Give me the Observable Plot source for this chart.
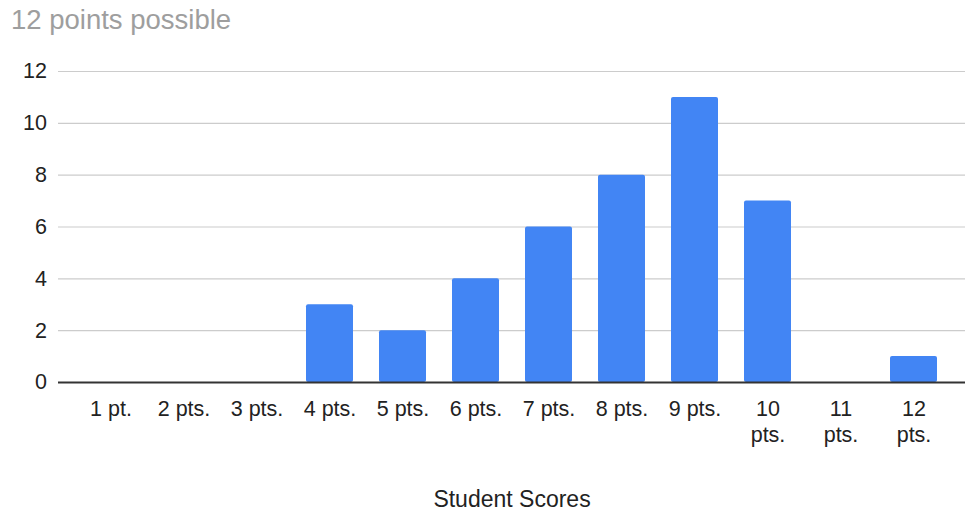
<!DOCTYPE html>
<html>
<head>
<meta charset="utf-8">
<script src="https://cdn.jsdelivr.net/npm/d3@7"></script>
<script src="https://cdn.jsdelivr.net/npm/@observablehq/plot@0.6"></script>
<style>
  html, body { margin: 0; padding: 0; background: #fff; }
  #title { font-family: "Liberation Sans", Arial, sans-serif; font-size: 27.5px; color: #9e9e9e; height: 44px; line-height: 39px; padding-left: 11px; box-sizing: border-box; white-space: nowrap; }
  #chart svg { display: block; }
</style>
</head>
<body>
<div id="title">12 points possible</div>
<div id="chart"></div>
<script>
const categories = ["1 pt.", "2 pts.", "3 pts.", "4 pts.", "5 pts.", "6 pts.", "7 pts.", "8 pts.", "9 pts.", "10 pts.", "11 pts.", "12 pts."];
const counts = [0, 0, 0, 3, 2, 4, 6, 8, 11, 7, 0, 1];
const yTicks = [0, 2, 4, 6, 8, 10, 12];
const xTitle = "Student Scores";

const data = categories.map((c, i) => ({category: c, count: counts[i]}));

const chart = Plot.plot({
  width: 968,
  height: 467,
  marginLeft: 58,
  marginRight: 3,
  marginTop: 27,
  marginBottom: 129,
  style: {fontFamily: "'Liberation Sans', Arial, sans-serif", fontSize: "21px", color: "#222", background: "#fff"},
  x: {domain: categories, padding: 0.36, paddingOuter: 0.35, label: null},
  y: {domain: [0, 12], ticks: yTicks, label: null},
  marks: [
    Plot.gridY(yTicks.filter(d => d > 0), {stroke: "#cccccc", strokeOpacity: 1, strokeWidth: 1.2}),
    Plot.axisY(yTicks, {tickSize: 0, tickPadding: 11.5, fontSize: 21.5, label: null}),
    Plot.axisX({tickSize: 0, tickPadding: 15, fontSize: 21.5, lineHeight: 1.2, label: null,
      tickFormat: d => d.length >= 7 ? d.replace(" ", "\n") : d}),
    Plot.barY(data, {x: "category", y: "count", fill: "#4285f4", rx: 2}),
    Plot.ruleY([0], {stroke: "#333333", strokeWidth: 2}),
    Plot.text([xTitle], {frameAnchor: "bottom", dy: 124, text: d => d, fontSize: 23, fill: "#222"})
  ]
});
document.getElementById("chart").appendChild(chart);
</script>
</body>
</html>
